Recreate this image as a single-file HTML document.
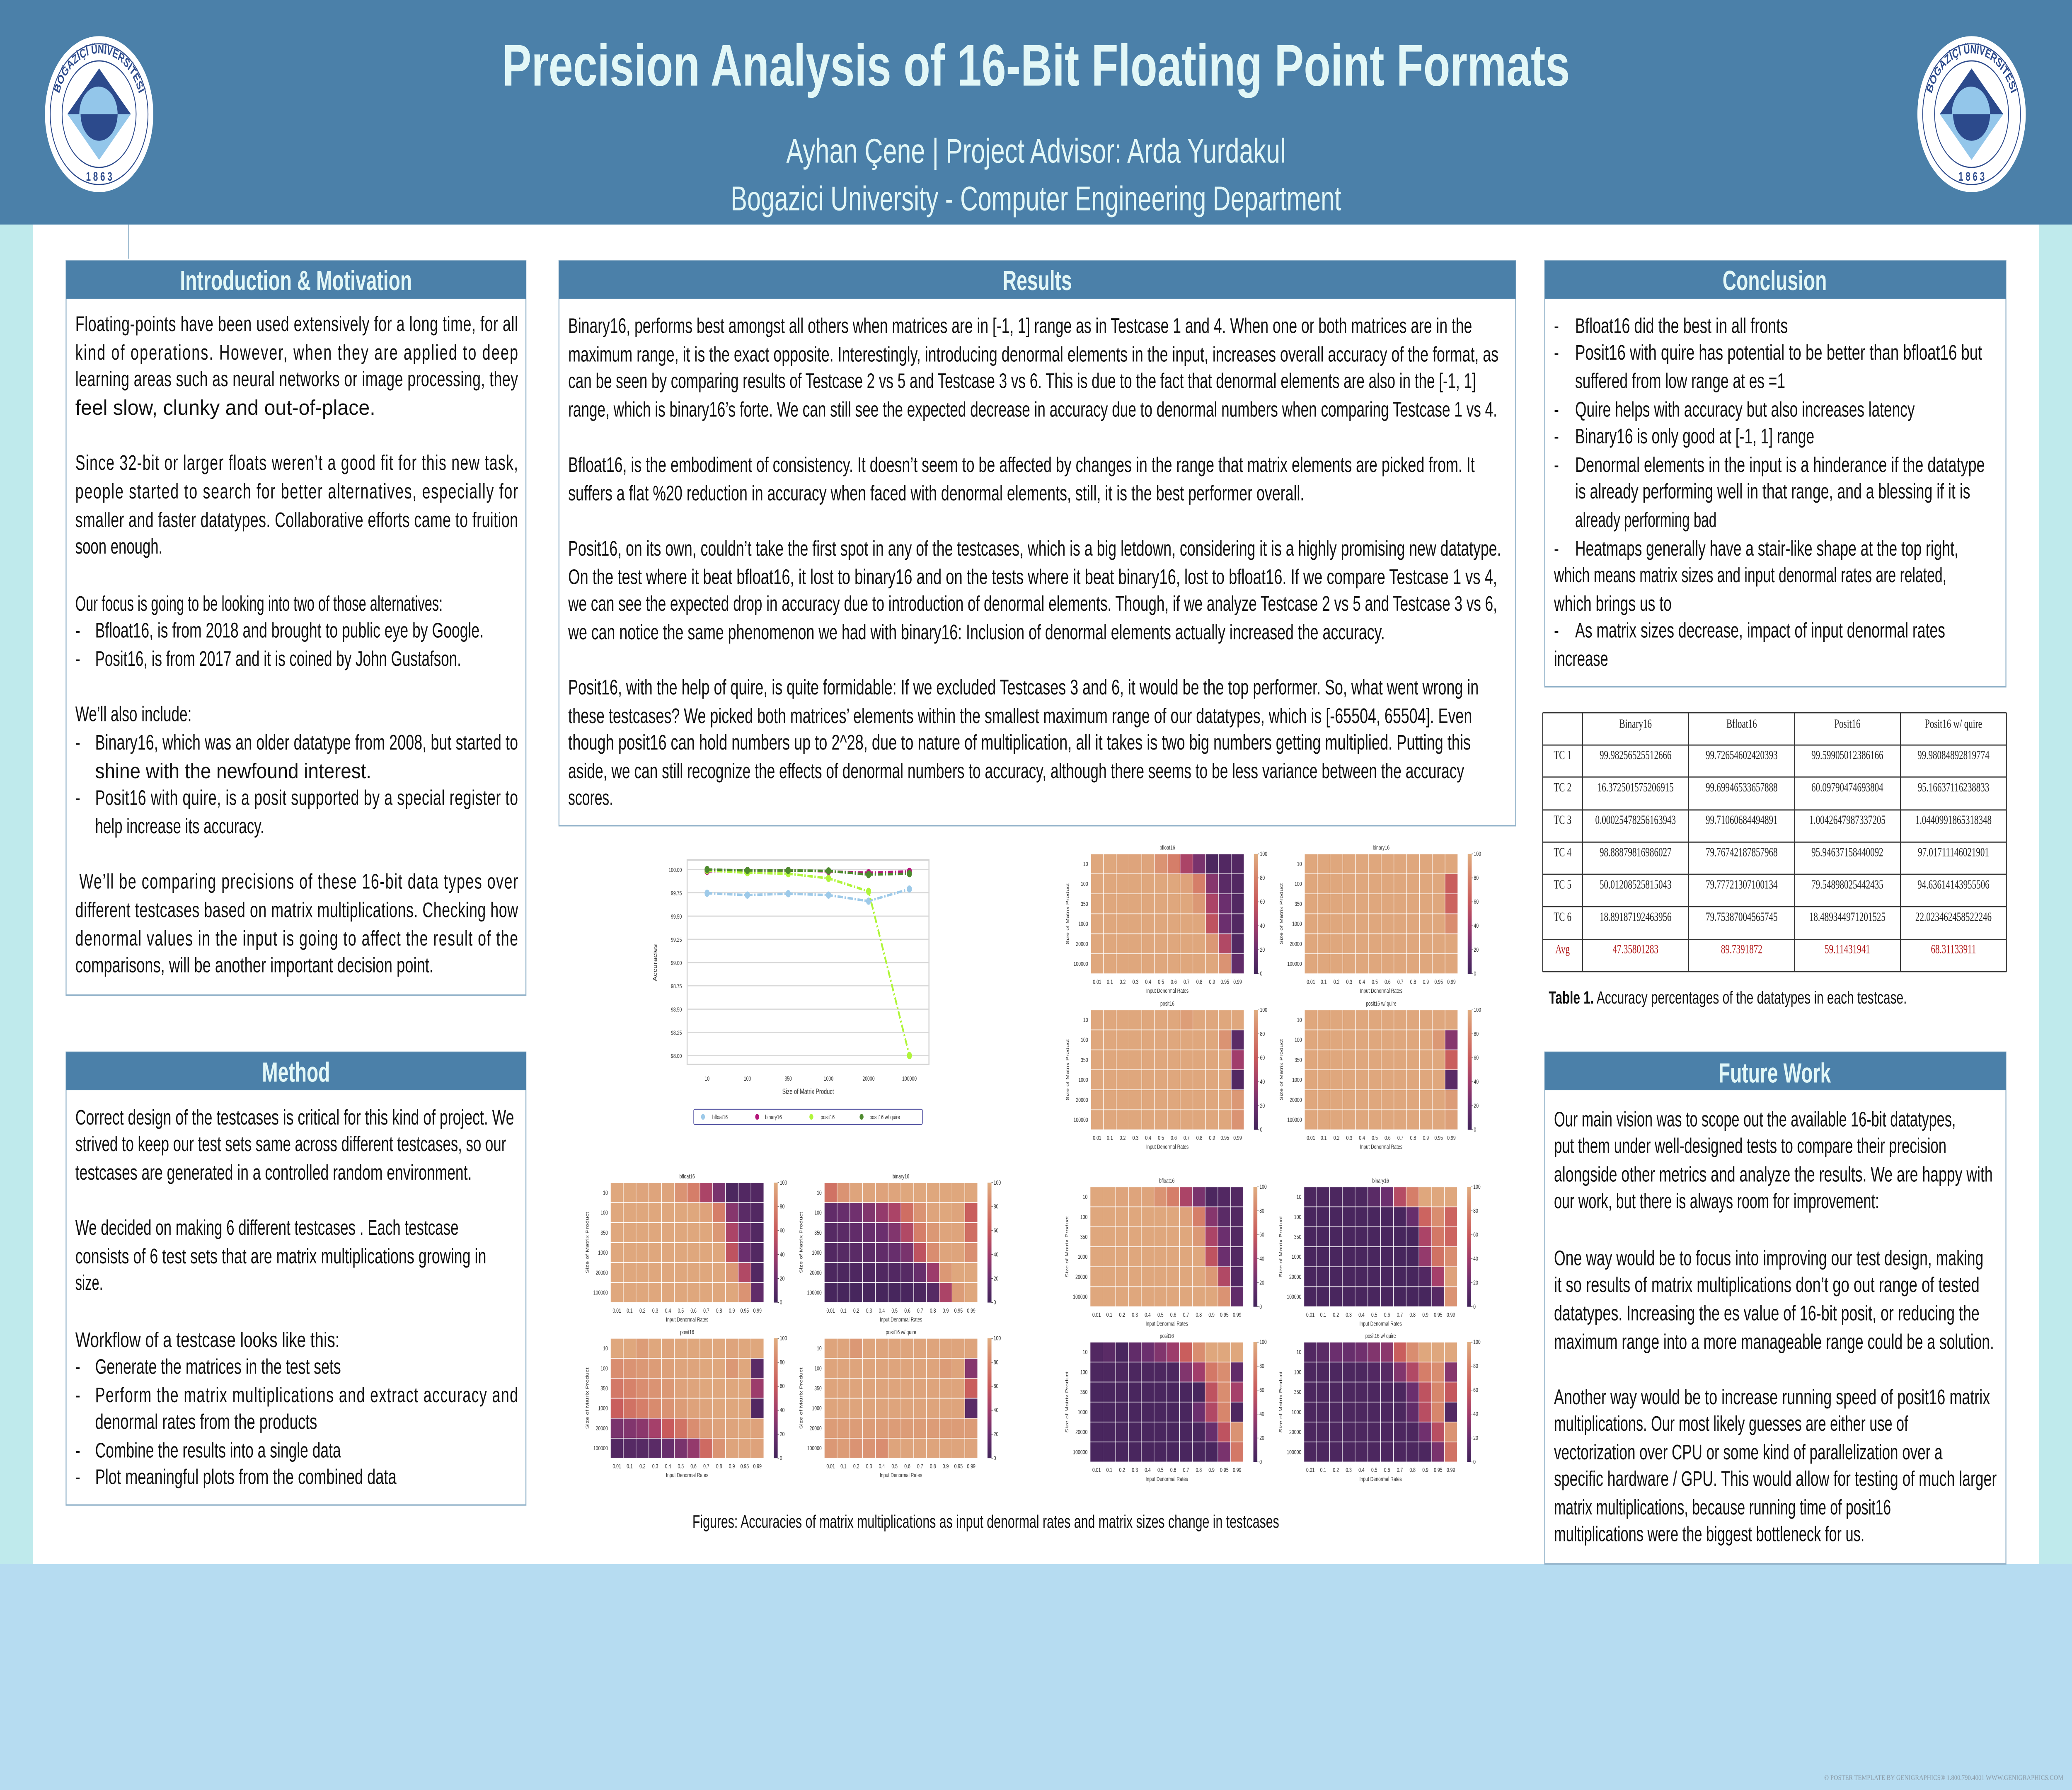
<!DOCTYPE html>
<html><head><meta charset="utf-8">
<style>
html,body{margin:0;padding:0;width:100%;height:100%;overflow:hidden;background:#fff}
svg{display:block;width:100vw;height:100vh}
.b{font-family:"Liberation Sans",sans-serif;font-size:11.2px;fill:#111}
.h{font-family:"Liberation Sans",sans-serif;font-size:14.5px;font-weight:bold;fill:#e2f7f7;text-anchor:middle}
.t{font-family:"Liberation Serif",serif;font-size:6.6px;fill:#222;text-anchor:middle}
.tr{font-family:"Liberation Serif",serif;font-size:6.6px;fill:#b01818;text-anchor:middle}
.s{font-family:"Liberation Sans",sans-serif;font-size:3.3px;fill:#333}
</style></head>
<body>
<svg id="poster" viewBox="0 0 1568 940.8" preserveAspectRatio="none" xmlns="http://www.w3.org/2000/svg" xmlns:xlink="http://www.w3.org/1999/xlink">
<defs>
<linearGradient id="cb" x1="0" y1="1" x2="0" y2="0">
<stop offset="0" stop-color="#41245a"/><stop offset="0.2" stop-color="#6b2f6e"/><stop offset="0.4" stop-color="#a13d6b"/><stop offset="0.6" stop-color="#c85a5c"/><stop offset="0.8" stop-color="#d6826a"/><stop offset="1" stop-color="#e0ad80"/>
</linearGradient>
<path id="arcTop" d="M43,60 A32,32 0 0 1 107,60"/>
</defs>
<rect x="0" y="0" width="1568" height="940.8" fill="#bfeaec"/>
<rect x="25" y="118" width="1518" height="704" fill="#ffffff"/>
<rect x="0" y="822" width="1568" height="119" fill="#b6dcf1"/>
<rect x="0" y="0" width="1568" height="118" fill="#4b80a9"/>
<line x1="97.5" y1="118" x2="97.5" y2="136" stroke="#4b80a9" stroke-width="0.5"/>

<g id="logoL">
<circle cx="75" cy="60" r="41" fill="#fff"/>
<circle cx="75" cy="60" r="37" fill="none" stroke="#2c4a8c" stroke-width="0.6"/>
<circle cx="75" cy="60" r="28" fill="none" stroke="#2c4a8c" stroke-width="0.6"/>
<polygon points="75,36 99,60 75,84 51,60" fill="#93c6ea"/>
<polygon points="75,36 99,60 51,60" fill="#2c4a8c"/>
<path d="M60,60 A14,14 0 0 1 89,60 Z" fill="#93c6ea"/>
<path d="M61,60 L89,60 A14,14 0 0 1 61,60 Z" fill="#2c4a8c"/>
<text font-family="Liberation Sans,sans-serif" font-size="6.5" font-weight="bold" fill="#2c4a8c" text-anchor="middle"><textPath xlink:href="#arcTop" href="#arcTop" startOffset="50%">BOĞAZİÇİ ÜNİVERSİTESİ</textPath></text>
<text x="75" y="95" font-family="Liberation Sans,sans-serif" font-size="6.5" font-weight="bold" fill="#2c4a8c" text-anchor="middle">1 8 6 3</text>
</g>
<use href="#logoL" xlink:href="#logoL" transform="translate(1417,0)"/>

<text x="784" y="45" font-family="Liberation Sans,sans-serif" font-size="31" font-weight="bold" fill="#e2f7f7" text-anchor="middle" textLength="808" lengthAdjust="spacingAndGlyphs">Precision Analysis of 16-Bit Floating Point Formats</text>
<text x="784" y="85.5" font-family="Liberation Sans,sans-serif" font-size="18" fill="#e2f7f7" text-anchor="middle" textLength="378" lengthAdjust="spacingAndGlyphs">Ayhan Çene | Project Advisor: Arda Yurdakul</text>
<text x="784" y="110.5" font-family="Liberation Sans,sans-serif" font-size="18" fill="#e2f7f7" text-anchor="middle" textLength="462" lengthAdjust="spacingAndGlyphs">Bogazici University - Computer Engineering Department</text>

<g fill="#fff" stroke="#8fb0c8" stroke-width="0.7">
<rect x="50" y="137" width="348" height="386"/>
<rect x="50" y="553" width="348" height="238"/>
<rect x="423" y="137" width="724" height="297"/>
<rect x="1169" y="137" width="349" height="224"/>
<rect x="1169" y="553" width="349" height="269"/>
</g>
<g fill="#4b80a9">
<rect x="50" y="137" width="348" height="20"/>
<rect x="50" y="553" width="348" height="20"/>
<rect x="423" y="137" width="724" height="20"/>
<rect x="1169" y="137" width="349" height="20"/>
<rect x="1169" y="553" width="349" height="20"/>
</g>
<text class="h" x="224" y="152.5">Introduction &amp; Motivation</text>
<text class="h" x="224" y="568.5">Method</text>
<text class="h" x="785" y="152.5">Results</text>
<text class="h" x="1343" y="152.5">Conclusion</text>
<text class="h" x="1343" y="569">Future Work</text>

<g class="b">
<text x="57" y="174" textLength="335" lengthAdjust="spacing">Floating-points have been used extensively for a long time, for all</text>
<text x="57" y="189" textLength="335" lengthAdjust="spacing">kind of operations. However, when they are applied to deep</text>
<text x="57" y="203" textLength="335" lengthAdjust="spacing">learning areas such as neural networks or image processing, they</text>
<text x="57" y="218" textLength="227" lengthAdjust="spacingAndGlyphs">feel slow, clunky and out-of-place.</text>
<text x="57" y="247" textLength="335" lengthAdjust="spacing">Since 32-bit or larger floats weren’t a good fit for this new task,</text>
<text x="57" y="262" textLength="335" lengthAdjust="spacing">people started to search for better alternatives, especially for</text>
<text x="57" y="277" textLength="335" lengthAdjust="spacing">smaller and faster datatypes. Collaborative efforts came to fruition</text>
<text x="57" y="291" textLength="66" lengthAdjust="spacingAndGlyphs">soon enough.</text>
<text x="57" y="321" textLength="278" lengthAdjust="spacingAndGlyphs">Our focus is going to be looking into two of those alternatives:</text>
<text x="57" y="335">-</text><text x="72" y="335" textLength="294" lengthAdjust="spacingAndGlyphs">Bfloat16, is from 2018 and brought to public eye by Google.</text>
<text x="57" y="350">-</text><text x="72" y="350" textLength="277" lengthAdjust="spacingAndGlyphs">Posit16, is from 2017 and it is coined by John Gustafson.</text>
<text x="57" y="379" textLength="88" lengthAdjust="spacingAndGlyphs">We’ll also include:</text>
<text x="57" y="394">-</text><text x="72" y="394" textLength="320" lengthAdjust="spacing">Binary16, which was an older datatype from 2008, but started to</text>
<text x="72" y="409" textLength="209" lengthAdjust="spacingAndGlyphs">shine with the newfound interest.</text>
<text x="57" y="423">-</text><text x="72" y="423" textLength="320" lengthAdjust="spacing">Posit16 with quire, is a posit supported by a special register to</text>
<text x="72" y="438" textLength="128" lengthAdjust="spacingAndGlyphs">help increase its accuracy.</text>
<text x="60" y="467" textLength="332" lengthAdjust="spacing">We’ll be comparing precisions of these 16-bit data types over</text>
<text x="57" y="482" textLength="335" lengthAdjust="spacing">different testcases based on matrix multiplications. Checking how</text>
<text x="57" y="497" textLength="335" lengthAdjust="spacing">denormal values in the input is going to affect the result of the</text>
<text x="57" y="511" textLength="271" lengthAdjust="spacingAndGlyphs">comparisons, will be another important decision point.</text>
</g>

<g class="b">
<text x="57" y="591" textLength="332" lengthAdjust="spacingAndGlyphs">Correct design of the testcases is critical for this kind of project. We</text>
<text x="57" y="605" textLength="326" lengthAdjust="spacingAndGlyphs">strived to keep our test sets same across different testcases, so our</text>
<text x="57" y="620" textLength="300" lengthAdjust="spacingAndGlyphs">testcases are generated in a controlled random environment.</text>
<text x="57" y="649" textLength="290" lengthAdjust="spacingAndGlyphs">We decided on making 6 different testcases . Each testcase</text>
<text x="57" y="664" textLength="311" lengthAdjust="spacingAndGlyphs">consists of 6 test sets that are matrix multiplications growing in</text>
<text x="57" y="678" textLength="21" lengthAdjust="spacingAndGlyphs">size.</text>
<text x="57" y="708" textLength="200" lengthAdjust="spacingAndGlyphs">Workflow of a testcase looks like this:</text>
<text x="57" y="722">-</text><text x="72" y="722" textLength="186" lengthAdjust="spacingAndGlyphs">Generate the matrices in the test sets</text>
<text x="57" y="737">-</text><text x="72" y="737" textLength="320" lengthAdjust="spacing">Perform the matrix multiplications and extract accuracy and</text>
<text x="72" y="751" textLength="168" lengthAdjust="spacingAndGlyphs">denormal rates from the products</text>
<text x="57" y="766">-</text><text x="72" y="766" textLength="186" lengthAdjust="spacingAndGlyphs">Combine the results into a single data</text>
<text x="57" y="780">-</text><text x="72" y="780" textLength="228" lengthAdjust="spacingAndGlyphs">Plot meaningful plots from the combined data</text>
</g>

<g class="b">
<text x="430" y="175" textLength="684" lengthAdjust="spacingAndGlyphs">Binary16, performs best amongst all others when matrices are in [-1, 1] range as in Testcase 1 and 4. When one or both matrices are in the</text>
<text x="430" y="190" textLength="704" lengthAdjust="spacingAndGlyphs">maximum range, it is the exact opposite. Interestingly, introducing denormal elements in the input, increases overall accuracy of the format, as</text>
<text x="430" y="204" textLength="687" lengthAdjust="spacingAndGlyphs">can be seen by comparing results of Testcase 2 vs 5 and Testcase 3 vs 6. This is due to the fact that denormal elements are also in the [-1, 1]</text>
<text x="430" y="219" textLength="703" lengthAdjust="spacingAndGlyphs">range, which is binary16’s forte. We can still see the expected decrease in accuracy due to denormal numbers when comparing Testcase 1 vs 4.</text>
<text x="430" y="248" textLength="686" lengthAdjust="spacingAndGlyphs">Bfloat16, is the embodiment of consistency. It doesn’t seem to be affected by changes in the range that matrix elements are picked from. It</text>
<text x="430" y="263" textLength="557" lengthAdjust="spacingAndGlyphs">suffers a flat %20 reduction in accuracy when faced with denormal elements, still, it is the best performer overall.</text>
<text x="430" y="292" textLength="706" lengthAdjust="spacingAndGlyphs">Posit16, on its own, couldn’t take the first spot in any of the testcases, which is a big letdown, considering it is a highly promising new datatype.</text>
<text x="430" y="307" textLength="703" lengthAdjust="spacingAndGlyphs">On the test where it beat bfloat16, it lost to binary16 and on the tests where it beat binary16, lost to bfloat16. If we compare Testcase 1 vs 4,</text>
<text x="430" y="321" textLength="703" lengthAdjust="spacingAndGlyphs">we can see the expected drop in accuracy due to introduction of denormal elements. Though, if we analyze Testcase 2 vs 5 and Testcase 3 vs 6,</text>
<text x="430" y="336" textLength="618" lengthAdjust="spacingAndGlyphs">we can notice the same phenomenon we had with binary16: Inclusion of denormal elements actually increased the accuracy.</text>
<text x="430" y="365" textLength="689" lengthAdjust="spacingAndGlyphs">Posit16, with the help of quire, is quite formidable: If we excluded Testcases 3 and 6, it would be the top performer. So, what went wrong in</text>
<text x="430" y="380" textLength="684" lengthAdjust="spacingAndGlyphs">these testcases? We picked both matrices’ elements within the smallest maximum range of our datatypes, which is [-65504, 65504]. Even</text>
<text x="430" y="394" textLength="683" lengthAdjust="spacingAndGlyphs">though posit16 can hold numbers up to 2^28, due to nature of multiplication, all it takes is two big numbers getting multiplied. Putting this</text>
<text x="430" y="409" textLength="678" lengthAdjust="spacingAndGlyphs">aside, we can still recognize the effects of denormal numbers to accuracy, although there seems to be less variance between the accuracy</text>
<text x="430" y="423" textLength="34" lengthAdjust="spacingAndGlyphs">scores.</text>
</g>

<g class="b">
<text x="1176" y="175">-</text><text x="1192" y="175" textLength="161" lengthAdjust="spacingAndGlyphs">Bfloat16 did the best in all fronts</text>
<text x="1176" y="189">-</text><text x="1192" y="189" textLength="308" lengthAdjust="spacingAndGlyphs">Posit16 with quire has potential to be better than bfloat16 but</text>
<text x="1192" y="204" textLength="159" lengthAdjust="spacingAndGlyphs">suffered from low range at es =1</text>
<text x="1176" y="219">-</text><text x="1192" y="219" textLength="257" lengthAdjust="spacingAndGlyphs">Quire helps with accuracy but also increases latency</text>
<text x="1176" y="233">-</text><text x="1192" y="233" textLength="181" lengthAdjust="spacingAndGlyphs">Binary16 is only good at [-1, 1] range</text>
<text x="1176" y="248">-</text><text x="1192" y="248" textLength="310" lengthAdjust="spacingAndGlyphs">Denormal elements in the input is a hinderance if the datatype</text>
<text x="1192" y="262" textLength="299" lengthAdjust="spacingAndGlyphs">is already performing well in that range, and a blessing if it is</text>
<text x="1192" y="277" textLength="107" lengthAdjust="spacingAndGlyphs">already performing bad</text>
<text x="1176" y="292">-</text><text x="1192" y="292" textLength="290" lengthAdjust="spacingAndGlyphs">Heatmaps generally have a stair-like shape at the top right,</text>
<text x="1176" y="306" textLength="297" lengthAdjust="spacingAndGlyphs">which means matrix sizes and input denormal rates are related,</text>
<text x="1176" y="321" textLength="89" lengthAdjust="spacingAndGlyphs">which brings us to</text>
<text x="1176" y="335">-</text><text x="1192" y="335" textLength="280" lengthAdjust="spacingAndGlyphs">As matrix sizes decrease, impact of input denormal rates</text>
<text x="1176" y="350" textLength="41" lengthAdjust="spacingAndGlyphs">increase</text>
</g>

<g class="b">
<text x="1176" y="592" textLength="304" lengthAdjust="spacingAndGlyphs">Our main vision was to scope out the available 16-bit datatypes,</text>
<text x="1176" y="606" textLength="297" lengthAdjust="spacingAndGlyphs">put them under well-designed tests to compare their precision</text>
<text x="1176" y="621" textLength="332" lengthAdjust="spacingAndGlyphs">alongside other metrics and analyze the results. We are happy with</text>
<text x="1176" y="635" textLength="246" lengthAdjust="spacingAndGlyphs">our work, but there is always room for improvement:</text>
<text x="1176" y="665" textLength="325" lengthAdjust="spacingAndGlyphs">One way would be to focus into improving our test design, making</text>
<text x="1176" y="679" textLength="322" lengthAdjust="spacingAndGlyphs">it so results of matrix multiplications don’t go out range of tested</text>
<text x="1176" y="694" textLength="322" lengthAdjust="spacingAndGlyphs">datatypes. Increasing the es value of 16-bit posit, or reducing the</text>
<text x="1176" y="709" textLength="333" lengthAdjust="spacingAndGlyphs">maximum range into a more manageable range could be a solution.</text>
<text x="1176" y="738" textLength="330" lengthAdjust="spacingAndGlyphs">Another way would be to increase running speed of posit16 matrix</text>
<text x="1176" y="752" textLength="268" lengthAdjust="spacingAndGlyphs">multiplications. Our most likely guesses are either use of</text>
<text x="1176" y="767" textLength="294" lengthAdjust="spacingAndGlyphs">vectorization over CPU or some kind of parallelization over a</text>
<text x="1176" y="781" textLength="335" lengthAdjust="spacingAndGlyphs">specific hardware / GPU. This would allow for testing of much larger</text>
<text x="1176" y="796" textLength="255" lengthAdjust="spacingAndGlyphs">matrix multiplications, because running time of posit16</text>
<text x="1176" y="810" textLength="235" lengthAdjust="spacingAndGlyphs">multiplications were the biggest bottleneck for us.</text>
</g>

<g stroke="#333" stroke-width="0.6">
<line x1="1167.4" y1="374.6" x2="1518.4" y2="374.6"/>
<line x1="1167.4" y1="391.6" x2="1518.4" y2="391.6"/>
<line x1="1167.4" y1="408.4" x2="1518.4" y2="408.4"/>
<line x1="1167.4" y1="425.7" x2="1518.4" y2="425.7"/>
<line x1="1167.4" y1="442.6" x2="1518.4" y2="442.6"/>
<line x1="1167.4" y1="459.5" x2="1518.4" y2="459.5"/>
<line x1="1167.4" y1="476.5" x2="1518.4" y2="476.5"/>
<line x1="1167.4" y1="493.8" x2="1518.4" y2="493.8"/>
<line x1="1167.4" y1="510.7" x2="1518.4" y2="510.7"/>
<line x1="1167.4" y1="374.6" x2="1167.4" y2="510.7"/>
<line x1="1197.6" y1="374.6" x2="1197.6" y2="510.7"/>
<line x1="1277.9" y1="374.6" x2="1277.9" y2="510.7"/>
<line x1="1358" y1="374.6" x2="1358" y2="510.7"/>
<line x1="1438.2" y1="374.6" x2="1438.2" y2="510.7"/>
<line x1="1518.4" y1="374.6" x2="1518.4" y2="510.7"/>
</g>
<g>
<text class="t" x="1237.7" y="382.5">Binary16</text><text class="t" x="1318" y="382.5">Bfloat16</text><text class="t" x="1398" y="382.5">Posit16</text><text class="t" x="1478.3" y="382.5">Posit16 w/ quire</text>
<text class="t" x="1182.5" y="399">TC 1</text><text class="t" x="1237.7" y="399">99.98256525512666</text><text class="t" x="1318" y="399">99.72654602420393</text><text class="t" x="1398" y="399">99.59905012386166</text><text class="t" x="1478.3" y="399">99.98084892819774</text>
<text class="t" x="1182.5" y="416">TC 2</text><text class="t" x="1237.7" y="416">16.372501575206915</text><text class="t" x="1318" y="416">99.69946533657888</text><text class="t" x="1398" y="416">60.09790474693804</text><text class="t" x="1478.3" y="416">95.16637116238833</text>
<text class="t" x="1182.5" y="433">TC 3</text><text class="t" x="1237.7" y="433">0.00025478256163943</text><text class="t" x="1318" y="433">99.71060684494891</text><text class="t" x="1398" y="433">1.0042647987337205</text><text class="t" x="1478.3" y="433">1.0440991865318348</text>
<text class="t" x="1182.5" y="450">TC 4</text><text class="t" x="1237.7" y="450">98.88879816986027</text><text class="t" x="1318" y="450">79.76742187857968</text><text class="t" x="1398" y="450">95.94637158440092</text><text class="t" x="1478.3" y="450">97.01711146021901</text>
<text class="t" x="1182.5" y="467">TC 5</text><text class="t" x="1237.7" y="467">50.01208525815043</text><text class="t" x="1318" y="467">79.77721307100134</text><text class="t" x="1398" y="467">79.54898025442435</text><text class="t" x="1478.3" y="467">94.63614143955506</text>
<text class="t" x="1182.5" y="484">TC 6</text><text class="t" x="1237.7" y="484">18.89187192463956</text><text class="t" x="1318" y="484">79.75387004565745</text><text class="t" x="1398" y="484">18.489344971201525</text><text class="t" x="1478.3" y="484">22.023462458522246</text>
<text class="tr" x="1182.5" y="501">Avg</text><text class="tr" x="1237.7" y="501">47.35801283</text><text class="tr" x="1318" y="501">89.7391872</text><text class="tr" x="1398" y="501">59.11431941</text><text class="tr" x="1478.3" y="501">68.31133911</text>
</g>
<text x="1172" y="527.5" font-family="Liberation Sans,sans-serif" font-size="9.2" fill="#111" textLength="271" lengthAdjust="spacingAndGlyphs"><tspan font-weight="bold">Table 1.</tspan> Accuracy percentages of the datatypes in each testcase.</text>

<text x="746" y="803" font-family="Liberation Sans,sans-serif" font-size="9.4" fill="#111" text-anchor="middle" textLength="444" lengthAdjust="spacingAndGlyphs">Figures: Accuracies of matrix multiplications as input denormal rates and matrix sizes change in testcases</text>

<g id="linechart">
<rect x="520" y="452" width="183" height="107.5" fill="#fff" stroke="#d4d4d4" stroke-width="0.8"/>
<g stroke="#d8d8d8" stroke-width="0.6">
<line x1="520" x2="703" y1="457" y2="457"/><line x1="520" x2="703" y1="469.2" y2="469.2"/><line x1="520" x2="703" y1="481.5" y2="481.5"/><line x1="520" x2="703" y1="493.7" y2="493.7"/><line x1="520" x2="703" y1="505.9" y2="505.9"/><line x1="520" x2="703" y1="518.1" y2="518.1"/><line x1="520" x2="703" y1="530.4" y2="530.4"/><line x1="520" x2="703" y1="542.6" y2="542.6"/><line x1="520" x2="703" y1="554.8" y2="554.8"/>
</g>
<g class="s" text-anchor="end" font-size="3.6">
<text x="516" y="458.3">100.00</text><text x="516" y="470.5">99.75</text><text x="516" y="482.8">99.50</text><text x="516" y="495">99.25</text><text x="516" y="507.2">99.00</text><text x="516" y="519.4">98.75</text><text x="516" y="531.7">98.50</text><text x="516" y="543.9">98.25</text><text x="516" y="556.1">98.00</text>
</g>
<g class="s" text-anchor="middle" font-size="3.6">
<text x="535.1" y="568">10</text><text x="565.6" y="568">100</text><text x="596.5" y="568">350</text><text x="627" y="568">1000</text><text x="657.3" y="568">20000</text><text x="688.2" y="568">100000</text>
<text x="611.5" y="575" font-size="4">Size of Matrix Product</text>
<text transform="translate(497,506) rotate(-90)" font-size="4">Accuracies</text>
</g>
<g id="series"></g>
<rect x="525" y="583" width="173" height="8" fill="#fff" stroke="#5050a0" stroke-width="0.5" rx="0.8"/>
<circle cx="532" cy="587" r="1.5" fill="#9ecae9"/><text class="s" x="539" y="588.2" font-size="3.6">bfloat16</text>
<circle cx="573" cy="587" r="1.5" fill="#b5177a"/><text class="s" x="579" y="588.2" font-size="3.6">binary16</text>
<circle cx="614" cy="587" r="1.5" fill="#b0f53a"/><text class="s" x="621" y="588.2" font-size="3.6">posit16</text>
<circle cx="652" cy="587" r="1.5" fill="#4e8a2e"/><text class="s" x="658" y="588.2" font-size="3.6">posit16 w/ quire</text>
</g>

<g id="heatmaps"></g>

<text x="1561.5" y="935.5" font-family="Liberation Serif,serif" font-size="3.6" fill="#8a9aa6" text-anchor="end" textLength="181" lengthAdjust="spacingAndGlyphs">© POSTER TEMPLATE BY GENIGRAPHICS® 1.800.790.4001 WWW.GENIGRAPHICS.COM</text>
</svg>

<script>
(function(){
var NS="http://www.w3.org/2000/svg";
function el(tag,attrs,parent,txt){var e=document.createElementNS(NS,tag);for(var k in attrs)e.setAttribute(k,attrs[k]);if(txt!==undefined)e.textContent=txt;parent.appendChild(e);return e;}
var stops=[[0,[65,36,90]],[20,[107,47,110]],[40,[161,61,107]],[60,[200,90,92]],[80,[214,130,106]],[100,[224,173,128]]];
function col(v){v=Math.max(0,Math.min(100,v));for(var i=0;i<stops.length-1;i++){var a=stops[i],b=stops[i+1];if(v<=b[0]){var t=(v-a[0])/(b[0]-a[0]);var c=a[1].map(function(x,j){return Math.round(x+(b[1][j]-x)*t)});return "rgb("+c.join(",")+")";}}return "rgb(224,173,128)";}
var S=document.getElementById("series");
var xs=[535.1,565.6,596.5,627,657.3,688.2];
function yv(v){return 457+(100-v)*48.9;}
var ser=[["#9ecae9",[99.745,99.725,99.74,99.725,99.66,99.79]],["#b5177a",[99.98,99.99,99.99,99.98,99.965,99.98]],["#b0f53a",[99.99,99.965,99.955,99.905,99.765,98.0]],["#4e8a2e",[100,99.99,99.99,99.985,99.945,99.955]]];
ser.forEach(function(s){var pts=s[1].map(function(v,i){return xs[i]+","+yv(v)}).join(" ");
el("polyline",{points:pts,fill:"none",stroke:s[0],"stroke-width":1.3,"stroke-dasharray":"4 1.3 1 1.3"},S);
s[1].forEach(function(v,i){el("circle",{cx:xs[i],cy:yv(v),r:1.9,fill:s[0]},S);});});
var H=document.getElementById("heatmaps");
var rows=["10","100","350","1000","20000","100000"],cols=["0.01","0.1","0.2","0.3","0.4","0.5","0.6","0.7","0.8","0.9","0.95","0.99"];
function fill(base,over){var d=[];for(var r=0;r<6;r++){d.push([]);for(var c=0;c<12;c++)d[r].push(base);}for(var k in over){var p=k.split(",");d[+p[0]][+p[1]]=over[k];}return d;}
var bf=[[97,97,96,96,96,88,78,45,25,5,8,8],[97,97,97,97,97,97,97,95,78,30,12,8],[97,97,97,97,97,97,97,97,90,45,20,8],[97,97,97,97,97,97,97,97,97,55,20,8],[97,97,97,97,97,97,97,97,97,90,48,8],[97,97,97,97,97,97,97,97,97,97,88,15]];
var A2=fill(97,{"1,11":62,"2,11":65,"3,11":85});
var A3=fill(97,{"0,7":93,"1,10":88,"1,11":12,"2,11":40,"3,11":8,"4,11":90,"5,11":88});
var A4=fill(97,{"1,10":90,"1,11":30,"2,11":62,"3,11":12,"4,11":92,"5,11":94});
var B2=[[72,88,96,96,95,96,97,97,97,97,97,97],[15,18,22,28,35,45,70,88,96,97,96,62],[10,12,15,18,20,28,48,78,90,96,96,70],[8,10,12,13,15,18,25,55,85,96,96,86],[5,5,6,6,7,8,10,18,38,90,97,97],[3,3,3,3,3,3,4,5,10,45,92,97]];
var B3=[[97,97,92,97,96,97,97,97,97,96,97,97],[85,88,90,92,94,96,96,97,97,90,97,12],[75,80,85,88,90,95,96,97,97,97,97,38],[62,72,78,84,88,92,95,96,97,97,97,8],[25,28,32,42,60,72,85,92,95,96,97,95],[8,10,10,12,18,25,35,68,88,96,96,95]];
var B4=fill(96,{"0,2":90,"1,9":92,"1,11":30,"2,11":62,"3,11":12,"4,0":92,"4,1":92,"4,2":92,"4,3":92,"4,4":92,"4,5":92,"4,6":92,"4,7":92,"4,8":92,"4,9":92,"4,10":92,"4,11":92,"5,0":90,"5,1":92,"5,2":88,"5,3":88,"5,4":85});
var C2=[[5,5,5,5,5,12,20,50,78,97,97,97],[4,4,4,4,4,4,4,4,18,65,85,65],[4,4,4,4,4,4,4,3,3,45,75,65],[4,4,4,4,4,4,4,3,3,35,72,85],[4,4,4,4,4,4,4,3,3,8,42,95],[4,4,4,4,4,4,4,3,3,3,10,88]];
var C3=[[8,12,4,15,20,28,38,62,85,97,97,97],[5,5,5,5,5,5,5,28,40,75,85,15],[4,4,4,4,4,4,4,4,3,55,85,42],[4,4,4,4,4,4,4,4,20,48,82,6],[4,4,4,4,4,4,4,4,4,18,55,88],[4,4,4,4,4,4,4,4,4,4,25,75]];
var C4=[[8,12,20,18,22,28,32,62,85,97,97,97],[5,5,5,5,5,8,10,28,48,78,85,30],[5,5,5,5,5,5,5,5,20,55,82,58],[5,5,5,5,5,5,5,5,15,52,82,8],[5,5,5,5,5,5,5,5,5,22,52,88],[5,5,5,5,5,5,5,5,5,5,25,72]];
function hm(x,y,title,d){var w=116,h=63,cw=w/12,ch=h/6;var g=el("g",{},H);
for(var r=0;r<6;r++)for(var c=0;c<12;c++)el("rect",{x:x+c*cw,y:y+r*ch,width:cw,height:ch,fill:col(d[r][c]),stroke:"#fff","stroke-width":0.35},g);
el("text",{x:x+w/2,y:y-2.2,"class":"s","text-anchor":"middle","font-size":3.3},g,title);
rows.forEach(function(t,r){el("text",{x:x-2,y:y+r*ch+ch/2+1.1,"class":"s","text-anchor":"end","font-size":3},g,t);});
cols.forEach(function(t,c){el("text",{x:x+c*cw+cw/2,y:y+h+5.3,"class":"s","text-anchor":"middle","font-size":3},g,t);});
el("text",{x:x+w/2,y:y+h+10,"class":"s","text-anchor":"middle","font-size":3.3},g,"Input Denormal Rates");
el("text",{transform:"translate("+(x-16.5)+","+(y+h/2)+") rotate(-90)","class":"s","text-anchor":"middle","font-size":3.1},g,"Size of Matrix Product");
var cx=x+w+7.5;el("rect",{x:cx,y:y,width:3,height:h,fill:"url(#cb)"},g);
for(var i=0;i<=5;i++){var ty=y+h-i*h/5;el("line",{x1:cx+3,x2:cx+4,y1:ty,y2:ty,stroke:"#333","stroke-width":0.3},g);el("text",{x:cx+4.6,y:ty+1,"class":"s","font-size":3},g,String(i*20));}
}
hm(825.4,448.8,"bfloat16",bf);hm(987.2,448.8,"binary16",A2);hm(825.4,530.8,"posit16",A3);hm(987.2,530.8,"posit16 w/ quire",A4);
hm(462,621.6,"bfloat16",bf);hm(623.8,621.6,"binary16",B2);hm(462,703.4,"posit16",B3);hm(623.8,703.4,"posit16 w/ quire",B4);
hm(825,623.8,"bfloat16",bf);hm(986.8,623.8,"binary16",C2);hm(825,705.4,"posit16",C3);hm(986.8,705.4,"posit16 w/ quire",C4);
})();
</script>
</body></html>
